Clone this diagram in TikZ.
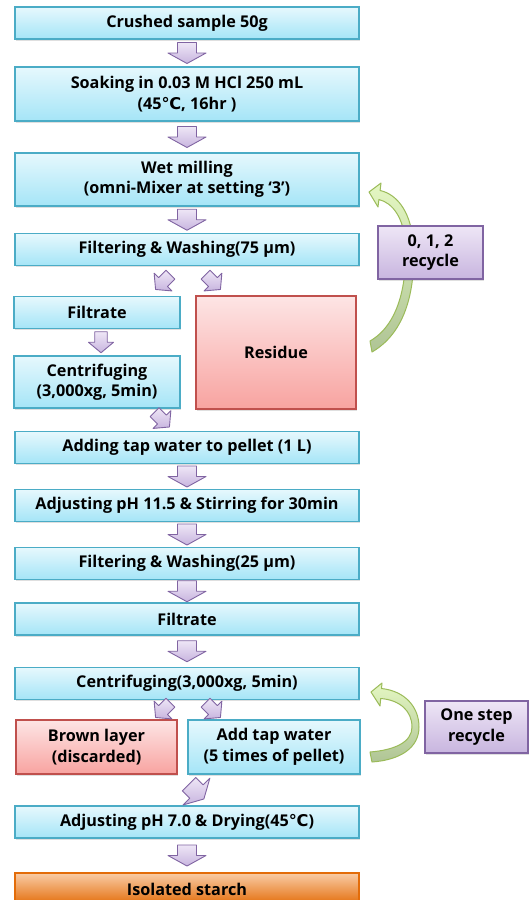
\documentclass[tikz,border=0pt]{standalone}
\usepackage{fontspec}
\setmainfont{Open Sans}
\newfontfamily\degfont{DejaVu Sans}
\usetikzlibrary{calc,shadows}
\definecolor{boxblue}{HTML}{4BACC6}
\definecolor{blueup}{HTML}{E6F8FD}
\definecolor{bluedown}{HTML}{A5E5F7}
\definecolor{boxred}{HTML}{C0504D}
\definecolor{redup}{HTML}{FDE5E5}
\definecolor{reddown}{HTML}{F8A3A0}
\definecolor{boxpurple}{HTML}{8064A2}
\definecolor{purpleup}{HTML}{EEE6F6}
\definecolor{purpledown}{HTML}{C8B5DF}
\definecolor{orangeup}{HTML}{F9CCA6}
\definecolor{orangedown}{HTML}{E36C09}
\definecolor{leafgreen}{HTML}{9BBB59}
\definecolor{leafup}{HTML}{E4F7C2}
\definecolor{leafdown}{HTML}{AFC495}
\newcommand{\degC}{{\degfont ℃}}

\begin{document}
\begin{tikzpicture}[x=1pt,y=-1pt,
  font=\fontsize{16.2}{20.5}\selectfont\bfseries,
  basebox/.style={line width=1.1pt,align=center,inner sep=0pt,minimum height=32pt,
    drop shadow={shadow xshift=1pt,shadow yshift=-1.5pt,opacity=.25}},
  stepbox/.style={basebox,draw=boxblue,top color=blueup,bottom color=bluedown},
  wastebox/.style={basebox,draw=boxred,top color=redup,bottom color=reddown},
  loopbox/.style={basebox,draw=boxpurple,top color=purpleup,bottom color=purpledown},
  endbox/.style={basebox,draw=orangedown,top color=orangeup,bottom color=orangedown},
  recyclearrow/.style={draw=leafgreen,line width=1pt,line join=round,
    top color=leafup,bottom color=leafdown},
  blockarrow/.pic={\path[draw=boxpurple,line width=.9pt,line join=round,
      top color=purpleup,bottom color=purpledown]
      (-9.5,-10.5) -- (9.5,-10.5) -- (9.5,0) -- (19,0) -- (0,10.5)
      -- (-19,0) -- (-9.5,0) -- cycle;}]

  \path[fill=white,use as bounding box] (0,0) rectangle (531,900);
  \clip (0,0) rectangle (531,900);

  % main column
  \node[stepbox,minimum width=344pt] (crush) at (187,23) {Crushed sample 50g};
  \node[stepbox,minimum width=344pt,minimum height=54pt] (soak) at (187,94)
    {Soaking in 0.03 M HCl 250 mL\\(45\degC, 16hr )};
  \node[stepbox,minimum width=344pt,minimum height=53pt] (mill) at (187,179.5)
    {Wet milling\\(omni-Mixer at setting ‘3’)};
  \node[stepbox,minimum width=344pt] (filt75) at (187,249.5) {Filtering \& Washing(75 µm)};
  \node[stepbox,minimum width=166pt] (filtrate1) at (97,312.5) {Filtrate};
  \node[wastebox,minimum width=160pt,minimum height=113pt] (residue) at (276,352.5) {Residue};
  \node[stepbox,minimum width=166pt,minimum height=52pt] (cent1) at (97,382)
    {Centrifuging\\(3,000xg, 5min)};
  \node[stepbox,minimum width=344pt] (addtap1) at (187,447.5) {Adding tap water to pellet (1 L)};
  \node[stepbox,minimum width=344pt] (ph115) at (187,505.5) {Adjusting pH 11.5 \& Stirring for 30min};
  \node[stepbox,minimum width=344pt] (filt25) at (187,563.5) {Filtering \& Washing(25 µm)};
  \node[stepbox,minimum width=344pt] (filtrate2) at (187,619) {Filtrate};
  \node[stepbox,minimum width=344pt] (cent2) at (187,683.5) {Centrifuging(3,000xg, 5min)};
  \node[wastebox,minimum width=161pt,minimum height=54pt] (brown) at (96.5,747)
    {Brown layer\\(discarded)};
  \node[stepbox,minimum width=172pt,minimum height=54pt] (addtap2) at (274,747)
    {Add tap water\\(5 times of pellet)};
  \node[stepbox,minimum width=344pt] (ph7) at (187,822) {Adjusting pH 7.0 \& Drying(45\degC)};
  \node[endbox,minimum width=344pt] (starch) at (187,889) {Isolated starch};

  % block arrows between the steps
  \pic at ($(crush.south)!.5!(soak.north)$) {blockarrow};
  \pic at ($(soak.south)!.5!(mill.north)$) {blockarrow};
  \pic at ($(mill.south)!.5!(filt75.north)$) {blockarrow};
  \pic[rotate=-45,xscale=.66] at ($(filt75.south)+(-24,16)$) {blockarrow};
  \pic[rotate=45,xscale=.66] at ($(filt75.south)+(26,16)$) {blockarrow};
  \pic[xscale=.66] at ($(filtrate1.south)!.5!(cent1.north)+(4,0)$) {blockarrow};
  \pic[rotate=45,xscale=.66] at ($(cent1.south)+(65,11)$) {blockarrow};
  \pic at ($(addtap1.south)!.5!(ph115.north)$) {blockarrow};
  \pic at ($(ph115.south)!.5!(filt25.north)$) {blockarrow};
  \pic at ($(filt25.south)!.5!(filtrate2.north)$) {blockarrow};
  \pic at ($(filtrate2.south)!.5!(cent2.north)$) {blockarrow};
  \pic[rotate=-45,xscale=.66] at ($(cent2.south)+(-24,10)$) {blockarrow};
  \pic[rotate=45,xscale=.66] at ($(cent2.south)+(26,10)$) {blockarrow};
  \pic[rotate=45] at ($(addtap2.south west)+(9,17)$) {blockarrow};
  \pic at ($(ph7.south)!.5!(starch.north)$) {blockarrow};

  % recycle loops, drawn behind their labels
  \path[recyclearrow] (369,192) -- (381,183) -- (380.1,190.5)
    .. controls (396,194) and (410,210) .. (413,240)
    .. controls (416,280) and (410,330) .. (372,352) -- (370,341)
    .. controls (398,325) and (408,285) .. (405,240)
    .. controls (403,218) and (393,203) .. (378.9,199.5)
    -- (378,207) -- cycle;
  \path[recyclearrow] (371,692) -- (382,683) -- (381.5,688.5)
    .. controls (405,691) and (419,707) .. (419,727)
    .. controls (419,748) and (400,760) .. (372,762) -- (370,752)
    .. controls (395,750) and (412,742) .. (412,727)
    .. controls (412,711) and (400,700) .. (380.7,698.5)
    -- (380,706) -- cycle;

  \node[loopbox,minimum width=105pt,minimum height=53pt] (loop1) at (430.5,252.5) {0, 1, 2\\recycle};
  \node[loopbox,minimum width=103pt,minimum height=52pt] (loop2) at (476.5,727) {One step\\recycle};

\end{tikzpicture}
\end{document}
